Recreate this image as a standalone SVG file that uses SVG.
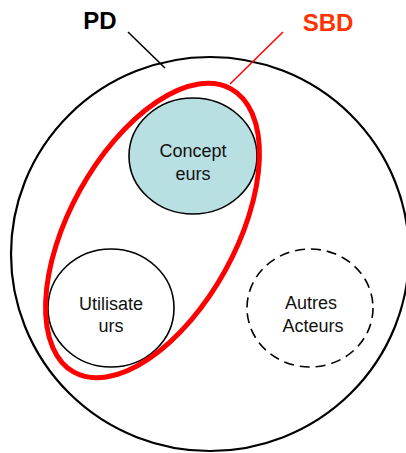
<svg xmlns="http://www.w3.org/2000/svg" width="406" height="453" viewBox="0 0 406 453">
<style>
.lbl{font-family:"Liberation Sans",Arial,sans-serif;font-size:18px;fill:#111;text-anchor:middle}
.big{font-family:"Liberation Sans",Arial,sans-serif;font-size:24px;font-weight:bold}
.circ{fill:none;stroke:#000;stroke-width:1.6}
</style>
<rect width="406" height="453" fill="#fff"/>
<g id="PD">
<ellipse cx="210" cy="254" rx="199" ry="197" fill="none" stroke="#000" stroke-width="2.2"/>
<text class="big" x="100" y="29" text-anchor="middle" fill="#000">PD</text>
</g>
<g id="Concepteurs">
<ellipse cx="193" cy="156" rx="64" ry="58" fill="#B8DFE2" stroke="#000" stroke-width="1.6"/>
<text class="lbl" x="193" y="157">Concept</text>
<text class="lbl" x="193" y="180">eurs</text>
</g>
<g id="Utilisateurs">
<ellipse class="circ" cx="111" cy="308" rx="63" ry="59"/>
<text class="lbl" x="111" y="310">Utilisate</text>
<text class="lbl" x="111" y="332">urs</text>
</g>
<g id="AutresActeurs">
<ellipse class="circ" cx="310" cy="308" rx="63" ry="59" stroke-dasharray="10,6"/>
<text class="lbl" x="311" y="309">Autres</text>
<text class="lbl" x="313" y="332">Acteurs</text>
</g>
<g id="SBD">
<ellipse cx="152.5" cy="230.5" rx="83" ry="162" transform="rotate(29 152.5 230.5)" fill="none" stroke="#FF0000" stroke-width="5"/>
<text class="big" x="328" y="31" text-anchor="middle" fill="#FF3300">SBD</text>
</g>
<g id="connectors">
<line x1="128" y1="32" x2="165" y2="68" stroke="#000" stroke-width="1.6"/>
<line x1="283" y1="32" x2="230" y2="84" stroke="#FF0000" stroke-width="1.5"/>
</g>
</svg>
